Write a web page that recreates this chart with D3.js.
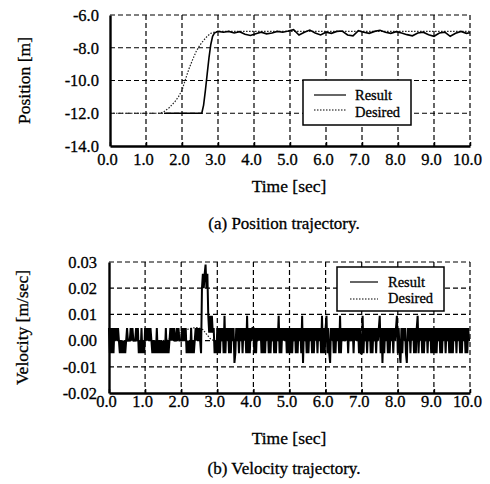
<!DOCTYPE html>
<html>
<head>
<meta charset="utf-8">
<script src="https://cdn.jsdelivr.net/npm/d3@7"></script>
<style>
body { margin: 0; background: #fff; }
text { font-family: "Liberation Serif", "Times New Roman", serif; fill: #000; stroke: #000; stroke-width: 0.3px; }
</style>
</head>
<body>
<script>
// ---- data ----
const xTicks = [0, 1, 2, 3, 4, 5, 6, 7, 8, 9, 10];
const posTicks = [-14, -12, -10, -8, -6];
const velTicks = [-0.02, -0.01, 0, 0.01, 0.02, 0.03];

// position [m], result (solid)
const posResult = [
  [1.5, -12], [2.55, -12], [2.6, -11.5], [2.65, -10.6], [2.7, -9.6], [2.75, -8.6],
  [2.8, -7.8], [2.85, -7.3], [2.9, -7.1], [3.0, -7.0], [3.15, -7.05], [3.3, -7.0],
  [3.45, -7.1], [3.6, -7.02], [3.75, -7.18], [3.9, -7.25], [4.05, -7.15], [4.2, -7.05],
  [4.35, -7.15], [4.5, -7.1], [4.65, -7.0], [4.8, -7.05], [4.95, -6.98], [5.1, -6.9],
  [5.25, -7.22], [5.4, -7.05], [5.55, -6.92], [5.7, -7.1], [5.85, -7.22], [6.0, -7.05],
  [6.15, -7.12], [6.3, -7.0], [6.45, -6.98], [6.6, -7.22], [6.75, -7.27], [6.9, -6.96],
  [7.05, -7.05], [7.2, -7.12], [7.35, -7.0], [7.5, -6.93], [7.65, -7.05], [7.8, -7.12],
  [7.95, -7.02], [8.1, -7.1], [8.25, -7.2], [8.4, -7.27], [8.55, -7.1], [8.7, -7.05],
  [8.85, -7.2], [9.0, -7.3], [9.15, -7.1], [9.3, -7.05], [9.45, -7.3], [9.6, -7.12],
  [9.75, -7.0], [9.9, -7.12], [10.0, -7.08]
];

// position [m], desired (dotted)
const posDesired = [
  [0, -12], [1.4, -12], [1.5, -11.9], [1.65, -11.65], [1.8, -11.3], [1.9, -11.0],
  [2.0, -10.6], [2.1, -9.9], [2.2, -9.25], [2.3, -8.7], [2.4, -8.2], [2.5, -7.83],
  [2.6, -7.55], [2.7, -7.3], [2.8, -7.12], [2.9, -7.04], [3.0, -7.0], [10.0, -7.0]
];

// velocity [m/sec], result: 40 samples per second, one code per sample
const velCodes = [
  "ududud" + "u0u0u0" + "d0d0d0d0" + "u0" + "00u0u000u0" + "ud0dud0d",
  "u0u0u0u0" + "d0d0dud0d0d0d0dud0d0" + "u0u0u00u0u00",
  "0u0u0u" + "d0d0dud0d0" + "u0u0u0" + "da" + "babcab" + "UeUeUe" + "ud0d",
  "ududu0udUd" + "u0ududu0uD" + "du0udu0udu" + "0udUdudu0u",
  "ududu0u0ud" + "ududu0udud" + "u0ududu0Ud" + "udu0u0udud",
  "ududu0udud" + "u0udUDu0ud" + "udu0ududu0" + "udu0udUdud",
  "uUdudDu0ud" + "udu0udUdu0" + "u0u0udu0u0" + "udu0u0udud",
  "dUdu0udu0u" + "dudu0udu0u" + "UduDudu0ud" + "udu0udu0uU",
  "dudDudu0ud" + "Du0udu0udu" + "duUdu0udud" + "u0udu0udud",
  "ududu0udud" + "u0udu0udud" + "udu0udu0ud" + "udu0ududu0"
];
const velLevels = {
  "0": 0, u: 0.0048, d: -0.0048, U: 0.0095, D: -0.0085,
  e: 0.003, a: 0.02, b: 0.0255, c: 0.029
};

// velocity [m/sec], desired (dotted)
const velDesired = [
  [0, 0], [1.5, 0], [1.7, 0.0008], [1.9, 0.0025], [2.1, 0.004], [2.3, 0.0048],
  [2.45, 0.005], [2.6, 0.0042], [2.7, 0.0025], [2.8, 0.0008], [2.9, 0], [10, 0]
];

const legendNames = ["Result", "Desired"];

// ---- drawing ----
const svg = d3.select("body").append("svg")
  .attr("width", 490)
  .attr("height", 484);

function velSeries() {
  const pts = [];
  velCodes.forEach((s, sec) => {
    for (let i = 0; i < s.length; i++) {
      pts.push([sec + i / 40, velLevels[s[i]]]);
    }
  });
  return pts;
}

function drawPanel(p) {
  const x = d3.scaleLinear().domain([0, 10]).range([p.left, p.right]);
  const y = d3.scaleLinear().domain(p.yDomain).range([p.bottom, p.top]);
  const g = svg.append("g");

  // dashed grid (also makes the top and right border)
  g.append("g").selectAll("line")
    .data(xTicks.slice(1))
    .join("line")
    .attr("x1", d => x(d)).attr("x2", d => x(d))
    .attr("y1", p.top).attr("y2", p.bottom)
    .attr("stroke", "#000").attr("stroke-width", 1.2)
    .attr("stroke-dasharray", "5,3");
  g.append("g").selectAll("line")
    .data(p.yTicks.slice(1))
    .join("line")
    .attr("x1", p.left).attr("x2", p.right)
    .attr("y1", d => y(d)).attr("y2", d => y(d))
    .attr("stroke", "#000").attr("stroke-width", 1.2)
    .attr("stroke-dasharray", "5,3");

  const line = d3.line().x(d => x(d[0])).y(d => y(d[1]));

  g.append("path")
    .attr("d", line(p.desired))
    .attr("fill", "none")
    .attr("stroke", "#222")
    .attr("stroke-width", 1.2)
    .attr("stroke-dasharray", "1.5,1.5");
  g.append("path")
    .attr("d", line(p.result))
    .attr("fill", "none")
    .attr("stroke", "#000")
    .attr("stroke-width", p.resultWidth);

  // axes
  const gx = g.append("g")
    .attr("transform", `translate(0,${p.bottom})`)
    .call(d3.axisBottom(x).tickValues(xTicks).tickFormat(d => d.toFixed(1))
      .tickSize(-4).tickSizeOuter(0).tickPadding(p.xPad));
  gx.select(".domain").attr("stroke-width", 2.4);
  gx.selectAll(".tick line").attr("stroke-width", 1.5);
  gx.selectAll("text")
    .attr("font-size", 16.5)
    .attr("dx", -3);

  const gy = g.append("g")
    .attr("transform", `translate(${p.left},0)`)
    .call(d3.axisLeft(y).tickValues(p.yTicks).tickFormat(p.fmt)
      .tickSize(0).tickSizeOuter(0).tickPadding(p.yPad));
  gy.select(".domain").attr("stroke-width", 2.4);
  gy.selectAll("text")
    .attr("font-size", 16.5);

  // titles
  g.append("text")
    .attr("x", 289).attr("y", p.xTitleY)
    .attr("text-anchor", "middle")
    .attr("font-size", 17.5)
    .text("Time [sec]");
  g.append("text")
    .attr("transform", `translate(${p.yTitleX},${(p.top + p.bottom) / 2}) rotate(-90)`)
    .attr("text-anchor", "middle")
    .attr("font-size", 17.5)
    .text(p.yTitle);
  g.append("text")
    .attr("x", 284).attr("y", p.captionY)
    .attr("text-anchor", "middle")
    .attr("font-size", 17)
    .text(p.caption);

  // legend
  const L = p.legend;
  g.append("rect")
    .attr("x", L.x).attr("y", L.y)
    .attr("width", L.w).attr("height", L.h)
    .attr("fill", "#fff")
    .attr("stroke", "#000")
    .attr("stroke-width", 1.5);
  legendNames.forEach((name, i) => {
    const ly = L.lineY[i];
    g.append("line")
      .attr("x1", L.x1).attr("x2", L.x2)
      .attr("y1", ly).attr("y2", ly)
      .attr("stroke", "#000")
      .attr("stroke-width", i === 0 ? 1.2 : 1.1)
      .attr("stroke-dasharray", i === 0 ? null : "1.5,1.5");
    g.append("text")
      .attr("x", L.tx).attr("y", L.textY[i])
      .attr("font-size", 14.5)
      .text(name);
  });
}

drawPanel({
  left: 110, right: 470, top: 15, bottom: 146,
  yDomain: [-14, -6], yTicks: posTicks, fmt: d => d.toFixed(1),
  xPad: 7.6, yPad: 11,
  result: posResult, desired: posDesired, resultWidth: 1.6,
  xTitleY: 192, yTitle: "Position [m]", yTitleX: 30,
  caption: "(a) Position trajectory.", captionY: 229,
  legend: { x: 303, y: 80, w: 108, h: 45, x1: 314, x2: 346,
            lineY: [95, 110], tx: 355, textY: [100, 117] }
});

drawPanel({
  left: 109, right: 470, top: 262, bottom: 393,
  yDomain: [-0.02, 0.03], yTicks: velTicks, fmt: d => d.toFixed(2),
  xPad: 2.3, yPad: 12,
  result: velSeries(), desired: velDesired, resultWidth: 2,
  xTitleY: 444, yTitle: "Velocity [m/sec]", yTitleX: 28,
  caption: "(b) Velocity trajectory.", captionY: 474,
  legend: { x: 337, y: 267, w: 107, h: 44, x1: 350, x2: 378,
            lineY: [282, 299], tx: 388, textY: [286.5, 303] }
});
</script>
</body>
</html>
